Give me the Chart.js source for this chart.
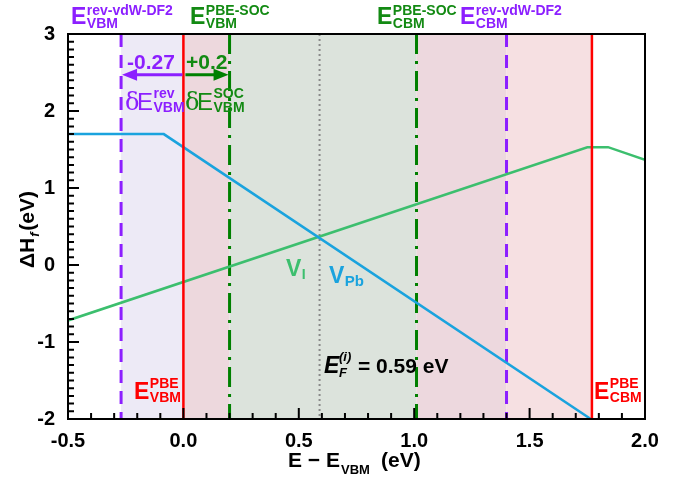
<!DOCTYPE html>
<html>
<head>
<meta charset="utf-8">
<script src="https://cdn.jsdelivr.net/npm/chart.js@4.4.0/dist/chart.umd.min.js"></script>
<style>
  html, body { margin: 0; padding: 0; background: #fff; }
</style>
</head>
<body>
<canvas id="defectChart" width="699" height="479"></canvas>
<script>
// formation energy lines (E - E_VBM in eV, dH_f in eV)
var vPbE = [-0.5, -0.085, 1.765];
var vPbH = [1.70, 1.70, -2.0];
var vIE = [-0.5, 1.75, 1.84, 2.0];
var vIH = [-0.72, 1.53, 1.53, 1.365];

// tick labels
var xTicks = [-0.5, 0.0, 0.5, 1.0, 1.5, 2.0];
var yTicks = [-2, -1, 0, 1, 2, 3];

// band edges
var revVBM = -0.27, pbeVBM = 0.0, socVBM = 0.2, fermiE = 0.59, socCBM = 1.01, revCBM = 1.40, pbeCBM = 1.77;
var bandEdges = [revVBM, pbeVBM, socVBM, socCBM, revCBM, pbeCBM];
var bandFills = ['#edeaf6', '#edd8dd', '#dce3dc', '#edd8de', '#f6e0e2'];
var arrowY = 2.47;

var PURPLE = '#8c1fff', DGREEN = '#008000', TGREEN = '#138a13', RED = '#ff0000';
var FONT = '"Liberation Sans", Arial, sans-serif';

function f(size, style) { return (style || 'bold') + ' ' + size + 'px ' + FONT; }

// big letter with stacked super/subscript
function edgeLabel(ctx, x, y, main, sup, sub, color, big, small, up, down, mainStyle) {
  ctx.fillStyle = color;
  ctx.font = f(big, mainStyle);
  ctx.fillText(main, x, y);
  var x2 = x + ctx.measureText(main).width + 0.5;
  ctx.font = f(small);
  if (sup) ctx.fillText(sup, x2, y - up);
  if (sub) ctx.fillText(sub, x2, y + down);
}

function vline(ctx, area, px, color, width, dash) {
  ctx.save();
  ctx.strokeStyle = color;
  ctx.lineWidth = width;
  ctx.setLineDash(dash || []);
  ctx.beginPath();
  ctx.moveTo(px, area.top);
  ctx.lineTo(px, area.bottom);
  ctx.stroke();
  ctx.restore();
}

function arrow(ctx, x0, x1, y, color) {
  var dir = x1 > x0 ? 1 : -1;
  ctx.save();
  ctx.strokeStyle = color;
  ctx.fillStyle = color;
  ctx.lineWidth = 3;
  ctx.beginPath();
  ctx.moveTo(x0, y);
  ctx.lineTo(x1 - dir * 10, y);
  ctx.stroke();
  ctx.beginPath();
  ctx.moveTo(x1, y);
  ctx.lineTo(x1 - dir * 15, y - 6);
  ctx.lineTo(x1 - dir * 15, y + 6);
  ctx.closePath();
  ctx.fill();
  ctx.restore();
}

var decor = {
  id: 'decor',
  beforeDatasetsDraw: function(chart) {
    var ctx = chart.ctx, a = chart.chartArea, xs = chart.scales.x;
    ctx.save();
    for (var i = 0; i < bandFills.length; i++) {
      var l = xs.getPixelForValue(bandEdges[i]), r = xs.getPixelForValue(bandEdges[i + 1]);
      ctx.fillStyle = bandFills[i];
      ctx.fillRect(l, a.top, r - l, a.bottom - a.top);
    }
    vline(ctx, a, xs.getPixelForValue(fermiE), '#8a8a8a', 2, [2, 3]);
    vline(ctx, a, xs.getPixelForValue(socVBM), DGREEN, 3, [20, 7, 3, 7]);
    vline(ctx, a, xs.getPixelForValue(socCBM), DGREEN, 3, [20, 7, 3, 7]);
    vline(ctx, a, xs.getPixelForValue(revVBM), PURPLE, 3, [13, 8]);
    vline(ctx, a, xs.getPixelForValue(revCBM), PURPLE, 3, [13, 8]);
    ctx.restore();
  },
  afterDatasetsDraw: function(chart) {
    var ctx = chart.ctx, a = chart.chartArea, xs = chart.scales.x, ys = chart.scales.y;
    ctx.save();
    vline(ctx, a, xs.getPixelForValue(pbeVBM), RED, 2.5);
    vline(ctx, a, xs.getPixelForValue(pbeCBM), RED, 2.5);

    // frame
    ctx.strokeStyle = '#000';
    ctx.lineWidth = 2;
    ctx.strokeRect(a.left, a.top, a.right - a.left, a.bottom - a.top);

    // inward ticks on left and bottom
    ctx.lineWidth = 2;
    ctx.beginPath();
    var k, v, p;
    for (k = -20; k <= 30; k++) {
      v = k / 10; p = ys.getPixelForValue(v);
      var len = (k % 10 === 0) ? 11 : 6;
      ctx.moveTo(a.left, p); ctx.lineTo(a.left + len, p);
    }
    for (k = -5; k <= 20; k++) {
      v = k / 10; p = xs.getPixelForValue(v);
      var lenx = (k % 5 === 0) ? 11 : 6;
      ctx.moveTo(p, a.bottom); ctx.lineTo(p, a.bottom - lenx);
    }
    ctx.stroke();

    ctx.textAlign = 'left';
    ctx.textBaseline = 'alphabetic';

    // band edge labels on top
    edgeLabel(ctx, 71, 24, 'E', 'rev-vdW-DF2', 'VBM', PURPLE, 23, 14, 9, 4);
    edgeLabel(ctx, 190, 24, 'E', 'PBE-SOC', 'VBM', TGREEN, 23, 14, 9, 4);
    edgeLabel(ctx, 377, 24, 'E', 'PBE-SOC', 'CBM', TGREEN, 23, 14, 9, 4);
    edgeLabel(ctx, 460, 24, 'E', 'rev-vdW-DF2', 'CBM', PURPLE, 23, 14, 9, 4);
    edgeLabel(ctx, 134, 399, 'E', 'PBE', 'VBM', RED, 23, 14, 11, 3);
    edgeLabel(ctx, 594, 399, 'E', 'PBE', 'CBM', RED, 23, 14, 11, 3);

    // shift arrows
    var ay = ys.getPixelForValue(arrowY);
    arrow(ctx, xs.getPixelForValue(pbeVBM) - 1, xs.getPixelForValue(revVBM) + 1, ay, PURPLE);
    arrow(ctx, xs.getPixelForValue(pbeVBM) + 2, xs.getPixelForValue(socVBM) - 1, ay, DGREEN);
    ctx.font = f(21);
    ctx.fillStyle = PURPLE;
    ctx.fillText('-0.27', 127, 69);
    ctx.fillStyle = TGREEN;
    ctx.fillText('+0.2', 186, 69);

    // delta labels
    ctx.font = '24px "DejaVu Serif", serif';
    ctx.fillStyle = PURPLE;
    ctx.fillText('\u03b4', 125, 110);
    edgeLabel(ctx, 137, 110, 'E', 'rev', 'VBM', PURPLE, 24, 14, 12, 2, 'normal');
    ctx.font = '24px "DejaVu Serif", serif';
    ctx.fillStyle = TGREEN;
    ctx.fillText('\u03b4', 185, 110);
    edgeLabel(ctx, 197, 110, 'E', 'SOC', 'VBM', TGREEN, 24, 14, 12, 2, 'normal');

    // defect labels
    edgeLabel(ctx, 286, 276, 'V', null, 'I', '#3cbf6e', 23, 14, 0, 3);
    edgeLabel(ctx, 329, 283, 'V', null, 'Pb', '#1aa3de', 23, 15, 0, 3);

    // fermi level label
    ctx.fillStyle = '#000';
    ctx.font = f(23, 'italic bold');
    ctx.fillText('E', 324, 373);
    ctx.font = f(13, 'italic bold');
    ctx.fillText('(i)', 339, 361);
    ctx.fillText('F', 339, 377);
    ctx.font = f(21);
    ctx.fillText('= 0.59 eV', 358, 373);

    // axis titles
    ctx.font = f(21);
    ctx.fillText('E \u2212 E', 288, 467);
    ctx.font = f(13);
    ctx.fillText('VBM', 341, 474);
    ctx.font = f(21);
    ctx.fillText('(eV)', 381, 467);

    ctx.translate(34, 268);
    ctx.rotate(-Math.PI / 2);
    ctx.font = f(21);
    ctx.fillText('\u0394H', 0, 0);
    var w = ctx.measureText('\u0394H').width;
    ctx.font = f(13, 'italic bold');
    ctx.fillText('f', w + 1, 5);
    ctx.font = f(21);
    ctx.fillText('(eV)', w + 7, 0);
    ctx.restore();
  }
};

function pts(xs, ys) {
  return xs.map(function(x, i) { return { x: x, y: ys[i] }; });
}

var ctx = document.getElementById('defectChart').getContext('2d');
var defectChart = new Chart(ctx, {
  type: 'scatter',
  data: {
    datasets: [{
      label: 'V_Pb',
      data: pts(vPbE, vPbH),
      showLine: true,
      borderColor: '#1aa3de',
      borderWidth: 2.5,
      pointRadius: 0,
      fill: false
    }, {
      label: 'V_I',
      data: pts(vIE, vIH),
      showLine: true,
      borderColor: '#3cbf6e',
      borderWidth: 2.5,
      pointRadius: 0,
      fill: false
    }]
  },
  options: {
    responsive: false,
    animation: false,
    layout: { padding: { top: 34, right: 54, left: 0, bottom: 0 } },
    plugins: { legend: { display: false }, tooltip: { enabled: false } },
    scales: {
      x: {
        type: 'linear',
        min: -0.5,
        max: 2.0,
        afterBuildTicks: function(s) { s.ticks = xTicks.map(function(v) { return { value: v }; }); },
        afterFit: function(s) { s.height = 60; },
        grid: { display: false, drawTicks: false },
        border: { display: false },
        ticks: {
          color: '#000',
          font: { family: FONT, size: 20, weight: 'bold' },
          padding: 10,
          maxRotation: 0,
          autoSkip: false,
          callback: function(v) { return v.toFixed(1); }
        }
      },
      y: {
        type: 'linear',
        min: -2,
        max: 3,
        afterBuildTicks: function(s) { s.ticks = yTicks.map(function(v) { return { value: v }; }); },
        afterFit: function(s) { s.width = 68; },
        grid: { display: false, drawTicks: false },
        border: { display: false },
        ticks: {
          color: '#000',
          font: { family: FONT, size: 20, weight: 'bold' },
          padding: 13,
          autoSkip: false
        }
      }
    }
  },
  plugins: [decor]
});
</script>
</body>
</html>
